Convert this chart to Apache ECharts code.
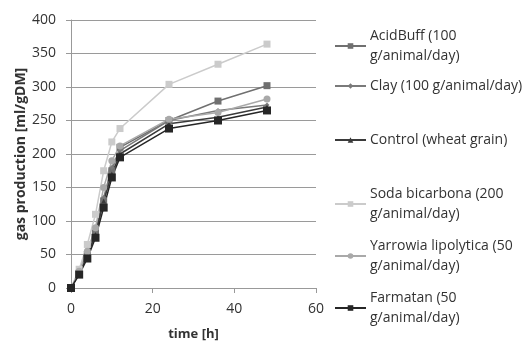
<!DOCTYPE html>
<html>
<head>
	<meta charset="utf-8">
	<title>gas production</title>
	<script src="https://cdn.jsdelivr.net/npm/echarts@6/dist/echarts.min.js"></script>
</head>
<body style="margin:0">
	<div id="main" style="width:528px;height:342px;"></div>
	<script type="text/javascript">
		var time = [0, 2, 4, 6, 8, 10, 12, 24, 36, 48];
		var acidBuff = [0, 22, 50, 82, 130, 175, 210, 250, 279, 302];
		var clay = [0, 23, 52, 85, 135, 180, 205, 250, 265, 273];
		var control = [0, 22, 48, 80, 130, 170, 200, 245, 255, 270];
		var soda = [0, 28, 65, 110, 175, 218, 238, 304, 334, 364];
		var yarrowia = [0, 25, 55, 90, 150, 190, 212, 252, 262, 282];
		var farmatan = [0, 20, 44, 75, 120, 165, 195, 238, 250, 265];

		var names = [
			'AcidBuff (100\ng/animal/day)',
			'Clay (100 g/animal/day)',
			'Control (wheat grain)',
			'Soda bicarbona (200\ng/animal/day)',
			'Yarrowia lipolytica (50\ng/animal/day)',
			'Farmatan (50\ng/animal/day)'
		];
		var values = [acidBuff, clay, control, soda, yarrowia, farmatan];
		var colors = ['#707070', '#7a7a7a', '#3a3a3a', '#cbcbcb', '#a9a9a9', '#262626'];
		var symbols = ['rect', 'diamond', 'triangle', 'rect', 'circle', 'rect'];
		var sizes = [7, 5, 5, 7, 7, 8];
		// top of each legend block, first text line centred on the icon
		var legendTops = [21, 71, 125, 179, 231, 283];

		var font = 'Open Sans';

		var series = values.map(function (v, i) {
			return {
				name: names[i],
				type: 'line',
				data: time.map(function (t, j) { return [t, v[j]]; }),
				symbol: symbols[i],
				symbolSize: sizes[i],
				color: colors[i],
				lineStyle: { width: 1.5, color: colors[i] },
				itemStyle: { color: colors[i] }
			};
		});

		var legends = names.map(function (n, i) {
			return {
				data: [n],
				left: 329,
				top: legendTops[i],
				orient: 'vertical',
				itemWidth: 31,
				itemHeight: 7,
				itemGap: 0,
				textStyle: { fontFamily: font, fontSize: 14, color: '#333', lineHeight: 20, padding: [0, 0, 0, -1] }
			};
		});

		var myChart = echarts.init(document.getElementById('main'));
		var option = {
			animation: false,
			backgroundColor: '#fff',
			textStyle: { fontFamily: font },
			grid: { left: 71, right: 212, top: 20, bottom: 54, containLabel: false, outerBoundsMode: 'none' },
			legend: legends,
			xAxis: {
				type: 'value',
				min: 0, max: 60, interval: 20,
				name: 'time [h]',
				nameLocation: 'middle',
				nameGap: 40,
				nameTextStyle: { fontFamily: font, fontWeight: 'bold', fontSize: 13, color: '#333' },
				axisLine: { lineStyle: { color: '#999' } },
				axisTick: { show: true, length: 5, lineStyle: { color: '#999' } },
				splitLine: { show: false },
				axisLabel: { fontFamily: font, fontSize: 14, color: '#333', margin: 14 }
			},
			yAxis: {
				type: 'value',
				min: 0, max: 400, interval: 50,
				name: 'gas production [ml/gDM]',
				nameLocation: 'middle',
				nameGap: 43,
				nameTextStyle: { fontFamily: font, fontWeight: 'bold', fontSize: 14, color: '#333' },
				axisLine: { show: true, lineStyle: { color: '#999' } },
				axisTick: { show: true, length: 5, lineStyle: { color: '#999' } },
				splitLine: { lineStyle: { color: '#9a9a9a' } },
				axisLabel: { fontFamily: font, fontSize: 14, color: '#333', margin: 15 }
			},
			series: series
		};
		myChart.setOption(option);
	</script>
</body>
</html>
